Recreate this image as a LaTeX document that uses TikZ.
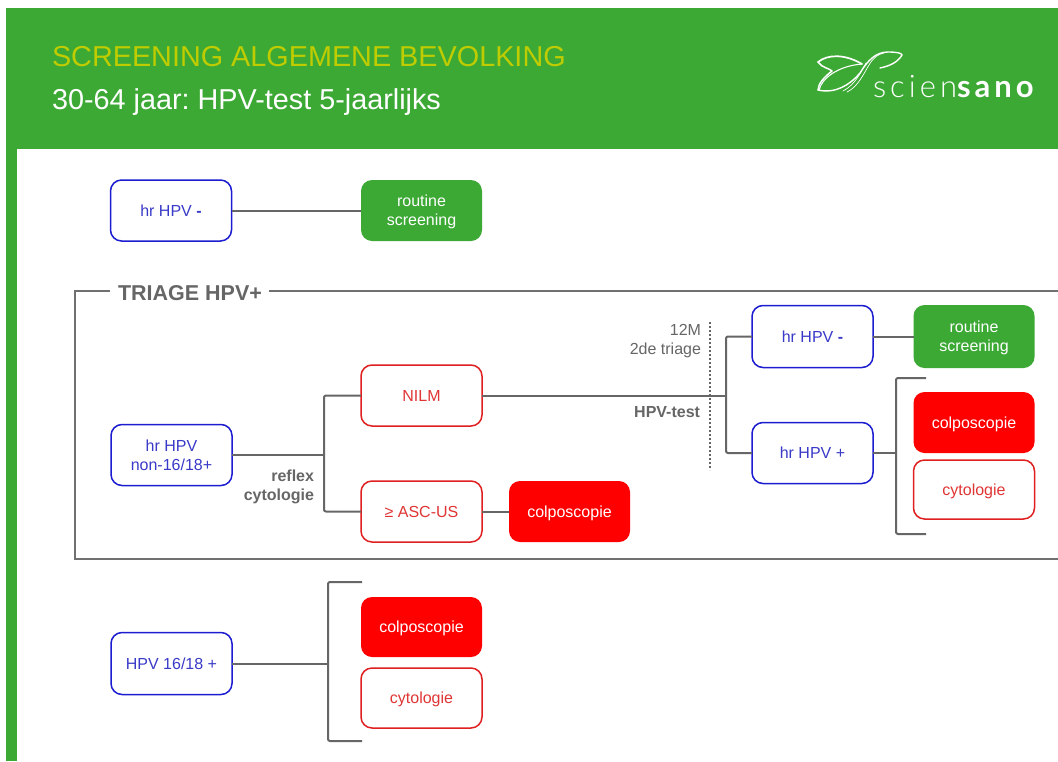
\documentclass[tikz,border=0pt]{standalone}
\usepackage{fontspec}
\setmainfont{Liberation Sans}
\newfontfamily\logolight[LetterSpace=13]{Lato Light}
\newfontfamily\logobold[LetterSpace=13]{Lato}
\frenchspacing
\definecolor{bandgreen}{HTML}{3CA935}
\definecolor{titlelime}{HTML}{BFCC00}
\definecolor{boxblue}{HTML}{1C1CD0}
\definecolor{txtblue}{HTML}{3A3AC8}
\definecolor{boxred}{HTML}{E02020}
\definecolor{txtred}{HTML}{E03535}
\definecolor{solidred}{HTML}{FF0000}
\definecolor{linegrey}{HTML}{666666}
\definecolor{framegrey}{HTML}{707070}
\tikzset{
  every node/.style={inner sep=0pt,outer sep=0pt},
  basebox/.style={rounded corners=11pt,minimum width=121pt,minimum height=61pt,align=center,text depth=0pt,font=\fontsize{16}{19}\selectfont},
  bluebox/.style={basebox,draw=boxblue,line width=1.5pt,fill=white,text=txtblue},
  redbox/.style={basebox,draw=boxred,line width=1.5pt,fill=white,text=txtred},
  greenbox/.style={basebox,fill=bandgreen,text=white},
  solidbox/.style={basebox,fill=solidred,text=white},
  conn/.style={draw=linegrey,line width=2pt,rounded corners=2pt},
  frame/.style={draw=framegrey,line width=1.1pt},
  greylabel/.style={text=linegrey,align=right,font=\fontsize{16}{19}\selectfont},
  boldlabel/.style={text=linegrey,align=right,font=\fontsize{16}{19}\selectfont\bfseries},
  logoline/.style={draw=white,line width=1.1pt,line cap=round,line join=round}
}
\begin{document}
\begin{tikzpicture}[x=1pt,y=-1pt]
\useasboundingbox (0,0) rectangle (1058,761);
\fill[white] (0,0) rectangle (1058,761);
\fill[bandgreen] (6,8) rectangle (1058,149);
\fill[bandgreen] (6,149) rectangle (16.5,761);
\node[anchor=west,text=titlelime,font=\fontsize{28.8}{32}\selectfont] (title) at (52,57) {SCREENING ALGEMENE BEVOLKING};
\node[anchor=west,text=white,font=\fontsize{28.8}{32}\selectfont] (subtitle) at (52,102) {30-64 jaar: HPV-test 5-jaarlijks};
% logo
\draw[logoline,line width=1.7pt] (818,62) .. controls (828,54) and (845,54) .. (862,64);
\draw[logoline] (862,64) .. controls (838,66) and (822,78) .. (819,90);
\draw[logoline,line width=1.5pt] (818,62) .. controls (822,68) and (829,68) .. (832,71) .. controls (824,77) and (818,84) .. (818,90);
\draw[logoline,line width=1.4pt] (818,90) .. controls (835,94) and (850,85) .. (860,73) .. controls (868,60) and (876,52) .. (888,52) .. controls (896,52) and (902,53) .. (902,55) .. controls (898,62) and (890,66) .. (880,68);
\draw[logoline,line width=.7pt] (847,92) .. controls (858,87) and (864,73) .. (869,65) .. controls (873,58) and (878,54) .. (884,53);
\draw[logoline,line width=.7pt] (843,91) .. controls (855,85) and (861,72) .. (866,63);
\node[anchor=base west,text=white,font=\fontsize{31}{31}\selectfont] (logotext) at (873,97) {\logolight scien\logobold\bfseries sano};
% frame
\draw[frame] (110,291) -- (75,291) -- (75,559) -- (1058,559);
\draw[frame] (269,291) -- (1058,291);
\node[anchor=west,text=linegrey,font=\fontsize{21.5}{24}\selectfont\bfseries] (triage) at (118,293) {TRIAGE HPV+};
% boxes
\node[bluebox] (hrnegA) at (171,210.5) {hr HPV \textbf{-}};
\node[greenbox] (routineA) at (421.5,210.5) {routine\\screening};
\node[bluebox] (hrnon) at (171.5,455) {hr HPV\\non-16/18+};
\node[redbox] (nilm) at (421.5,395.5) {NILM};
\node[redbox] (asc) at (421.5,511.5) {≥ ASC-US};
\node[solidbox] (colpoA) at (569.5,511.5) {colposcopie};
\node[bluebox,minimum height=62pt] (hrnegB) at (812.5,336.5) {hr HPV \textbf{-}};
\node[greenbox,minimum height=63pt] (routineB) at (974,336.5) {routine\\screening};
\node[bluebox] (hrpos) at (812.5,453) {hr HPV +};
\node[solidbox] (colpoB) at (974,422.5) {colposcopie};
\node[redbox,minimum height=59pt] (cytoB) at (974,489.5) {cytologie};
\node[bluebox,minimum height=62pt] (hrhigh) at (171.5,663.5) {HPV 16/18 +};
\node[solidbox,minimum height=60pt] (colpoC) at (421.5,627) {colposcopie};
\node[redbox,minimum height=60pt] (cytoC) at (421.5,698) {cytologie};
% junctions
\coordinate (jA) at (324,455);
\coordinate (jB) at (726,395.5);
\coordinate (jC) at (896,453);
\coordinate (jD) at (328,663.5);
\coordinate (bCt) at (926,378);
\coordinate (bCb) at (926,534);
\coordinate (bDt) at (362,582);
\coordinate (bDb) at (362,741);
\coordinate (dotA) at (710,322);
\coordinate (dotB) at (710,470);
% connectors
\draw[conn] (hrnegA.east) -- (routineA.west);
\draw[conn] (hrnon.east) -- (jA);
\draw[conn] (nilm.west) -| (jA) |- (asc.west);
\draw[conn] (asc.east) -- (colpoA.west);
\draw[conn] (nilm.east) -- (jB);
\draw[conn] (hrnegB.west) -| (jB) |- (hrpos.west);
\draw[conn] (hrnegB.east) -- (routineB.west);
\draw[conn] (hrpos.east) -- (jC);
\draw[conn] (bCt) -| (jC) |- (bCb);
\draw[conn] (hrhigh.east) -- (jD);
\draw[conn] (bDt) -| (jD) |- (bDb);
\draw[draw=linegrey,line width=1.6pt,dash pattern=on 1.6pt off 2.4pt] (dotA) -- (dotB);
% labels
\node[greylabel,anchor=east] (lblA) at (701,341) {12M\\2de triage};
\node[boldlabel,anchor=east] (lblB) at (700,412) {HPV-test};
\node[boldlabel,anchor=east] (lblC) at (314,486.5) {reflex\\cytologie};
\end{tikzpicture}
\end{document}
